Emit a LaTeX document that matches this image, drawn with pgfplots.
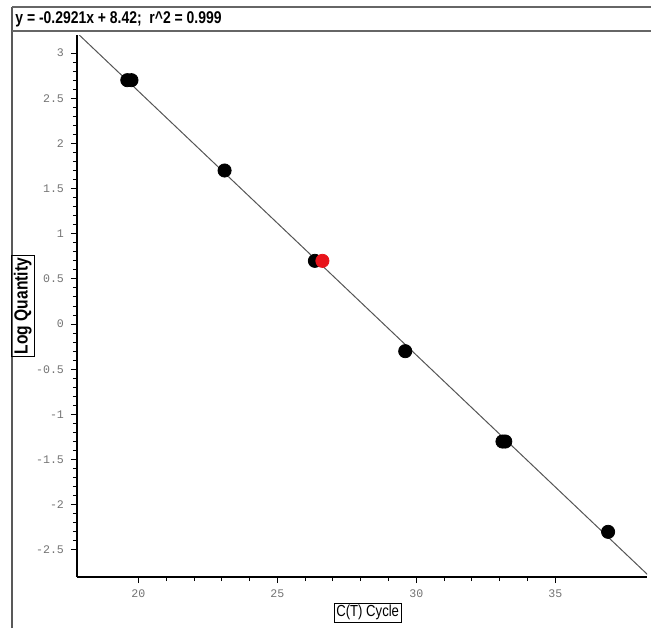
\documentclass[border=0pt]{standalone}
\usepackage{fontspec}
\setmainfont{Liberation Sans}
\newfontfamily\narrow[FakeStretch=0.82]{Liberation Sans}
\newfontfamily\tickfont{Liberation Mono}
\usepackage{pgfplots}
\usepackage{pgfplotstable}
\pgfplotsset{compat=1.18}
\definecolor{ptred}{HTML}{E8141B}
\definecolor{fitline}{HTML}{555555}

\pgfplotstableread{
x y
19.60 2.7
19.75 2.7
23.10 1.7
26.35 0.7
29.60 -0.3
33.10 -1.3
33.20 -1.3
36.90 -2.3
}\blackpts

\pgfplotstableread{
x y
26.62 0.7
}\redpts

\begin{document}
\begin{tikzpicture}[x=0.5pt,y=0.5pt]
\useasboundingbox (0,0) rectangle (651,628);
% frame: left edge and the title strip
\draw[black!65, line width=1pt] (12,0) -- (12,621);
\draw[black!60, line width=1.1pt] (12,621) -- (651,621);
\draw[black!60, line width=1.1pt] (12,597) -- (651,597);
\node[anchor=west, inner sep=0pt, font=\narrow\bfseries\fontsize{8.5}{9}\selectfont]
  at (15,609) {y = -0.2921x + 8.42;\ \ r\textasciicircum2 = 0.999};
\begin{axis}[
  at={(38.5pt,25.5pt)}, anchor=south west,
  scale only axis, width=285pt, height=271pt,
  xmin=17.79, xmax=38.3, ymin=-2.8, ymax=3.2,
  axis lines=left, axis line style={-, black, line width=0.6pt},
  tick align=outside,
  major tick length=3pt, minor tick length=2pt,
  tick style={black, line width=0.5pt},
  xtick={20,25,30,35}, minor x tick num=4,
  ytick={-2.5,-2,...,3}, minor y tick num=4,
  /pgf/number format/assume math mode=true,
  ticklabel style={font=\tickfont\fontsize{5.8}{6}\selectfont, text=black!55},
  xlabel={C(T) Cycle}, ylabel={Log Quantity},
  xlabel style={draw, inner sep=1.2pt, font=\narrow\fontsize{8}{9}\selectfont,
    at={(axis description cs:0.51,-0.066)}, anchor=center},
  ylabel style={draw, inner sep=1.2pt, font=\narrow\bfseries\fontsize{9.5}{10}\selectfont,
    at={(axis description cs:-0.095,0.5)}, anchor=center},
]
\addplot[fitline, line width=0.5pt] coordinates {(17.79,3.2236) (38.45,-2.8112)};
\addplot[only marks, mark=*, mark size=3.3pt, black] table {\blackpts};
\addplot[only marks, mark=*, mark size=3.3pt, ptred, mark options={draw=ptred, fill=ptred}] table {\redpts};
\end{axis}
\end{tikzpicture}
\end{document}
